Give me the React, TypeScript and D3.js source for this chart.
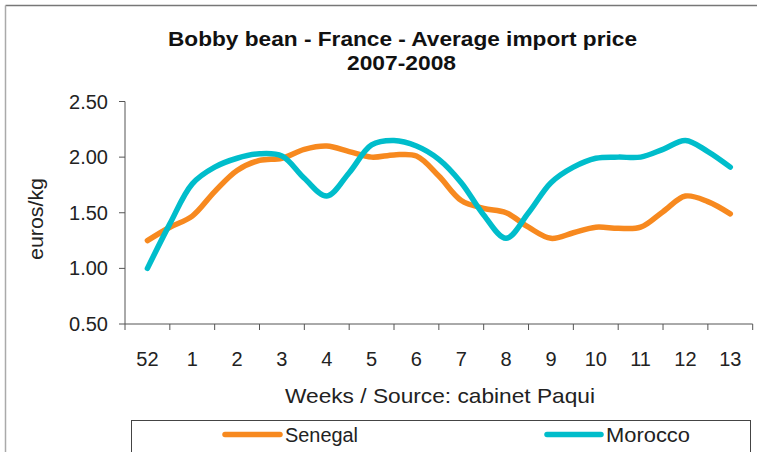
import React from 'react';
import * as d3 from 'd3';

// week labels on the x axis
const weeks = ['52', '1', '2', '3', '4', '5', '6', '7', '8', '9', '10', '11', '12', '13'];

// prices in euros/kg, read twice per week (week, week + 0.5, ...)
const senegal = [
  1.25, 1.37, 1.47, 1.69, 1.88, 1.97, 1.99, 2.07, 2.10, 2.05, 2.00, 2.02, 2.01, 1.83,
  1.61, 1.54, 1.50, 1.37, 1.27, 1.32, 1.37, 1.36, 1.37, 1.51, 1.65, 1.60, 1.49,
];
const morocco = [
  1.00, 1.40, 1.76, 1.91, 1.99, 2.03, 2.01, 1.81, 1.65, 1.86, 2.11, 2.15, 2.10, 1.98,
  1.77, 1.48, 1.27, 1.50, 1.77, 1.91, 1.99, 2.00, 2.00, 2.07, 2.15, 2.05, 1.91,
];
const yTicks = [0.5, 1.0, 1.5, 2.0, 2.5];

const W = 757;
const H = 452;
const margin = { top: 101.5, right: 4.3, bottom: 128, left: 125 };
const plotRight = W - margin.right;
const plotBottom = H - margin.bottom;

const font = '"Liberation Sans", Arial, sans-serif';
const orange = '#F7891F';
const teal = '#00BDCB';
const axisColor = '#555';

export default function App() {
  const x = d3.scaleLinear().domain([-0.5, weeks.length - 0.5]).range([margin.left, plotRight]);
  const y = d3.scaleLinear().domain([0.5, 2.5]).range([plotBottom, margin.top]);

  const line = d3
    .line<number>()
    .x((_, i) => x(i / 2))
    .y((d) => y(d))
    .curve(d3.curveCatmullRom.alpha(0.5));

  const boundaries = d3.range(weeks.length + 1).map((i) => i - 0.5);

  return (
    <svg
      width={W}
      height={H}
      style={{ position: 'absolute', left: 0, top: 0, background: '#fff' }}
      fontFamily={font}
    >
      {/* outer frame */}
      <line x1={5.5} y1={5.5} x2={W} y2={5.5} stroke="#777" strokeWidth={1.5} />
      <line x1={5.5} y1={5.5} x2={5.5} y2={H} stroke="#aaa" strokeWidth={1.5} />

      {/* title */}
      <text x={168} y={46} fontSize={20} fontWeight="bold" fill="#111" textLength={469} lengthAdjust="spacingAndGlyphs">
        Bobby bean - France - Average import price
      </text>
      <text x={347} y={70} fontSize={20} fontWeight="bold" fill="#111" textLength={109} lengthAdjust="spacingAndGlyphs">
        2007-2008
      </text>

      {/* y axis */}
      <line x1={margin.left} x2={margin.left} y1={margin.top} y2={plotBottom} stroke={axisColor} />
      {yTicks.map((t) => (
        <g key={t}>
          <line x1={margin.left - 6} x2={margin.left} y1={y(t)} y2={y(t)} stroke={axisColor} />
          <text x={108} y={y(t) + 7} textAnchor="end" fontSize={20} fill="#222">
            {d3.format('.2f')(t)}
          </text>
        </g>
      ))}
      <text
        transform={`translate(43, 260) rotate(-90)`}
        fontSize={20}
        fill="#222"
        textLength={82}
        lengthAdjust="spacingAndGlyphs"
      >
        euros/kg
      </text>

      {/* x axis */}
      <line x1={margin.left} x2={plotRight} y1={plotBottom} y2={plotBottom} stroke={axisColor} />
      {boundaries.map((b) => (
        <line key={b} x1={x(b)} x2={x(b)} y1={plotBottom} y2={plotBottom + 6} stroke={axisColor} />
      ))}
      {weeks.map((w, i) => (
        <text key={w} x={x(i)} y={366} textAnchor="middle" fontSize={20} fill="#222">
          {w}
        </text>
      ))}
      <text x={285} y={403} fontSize={21} fill="#222" textLength={310} lengthAdjust="spacingAndGlyphs">
        Weeks / Source: cabinet Paqui
      </text>

      {/* series */}
      <path d={line(senegal) ?? ''} fill="none" stroke={orange} strokeWidth={5.5} strokeLinecap="round" strokeLinejoin="round" />
      <path d={line(morocco) ?? ''} fill="none" stroke={teal} strokeWidth={5.5} strokeLinecap="round" strokeLinejoin="round" />

      {/* legend */}
      <rect x={131.5} y={420.5} width={619} height={40} fill="none" stroke="#444" strokeWidth={1} />
      <line x1={225} x2={280} y1={434.5} y2={434.5} stroke={orange} strokeWidth={5.5} strokeLinecap="round" />
      <text x={285} y={442} fontSize={20} fill="#222" textLength={73} lengthAdjust="spacingAndGlyphs">Senegal</text>
      <line x1={547} x2={601} y1={434.5} y2={434.5} stroke={teal} strokeWidth={5.5} strokeLinecap="round" />
      <text x={606} y={442} fontSize={20} fill="#222" textLength={84} lengthAdjust="spacingAndGlyphs">Morocco</text>
    </svg>
  );
}
